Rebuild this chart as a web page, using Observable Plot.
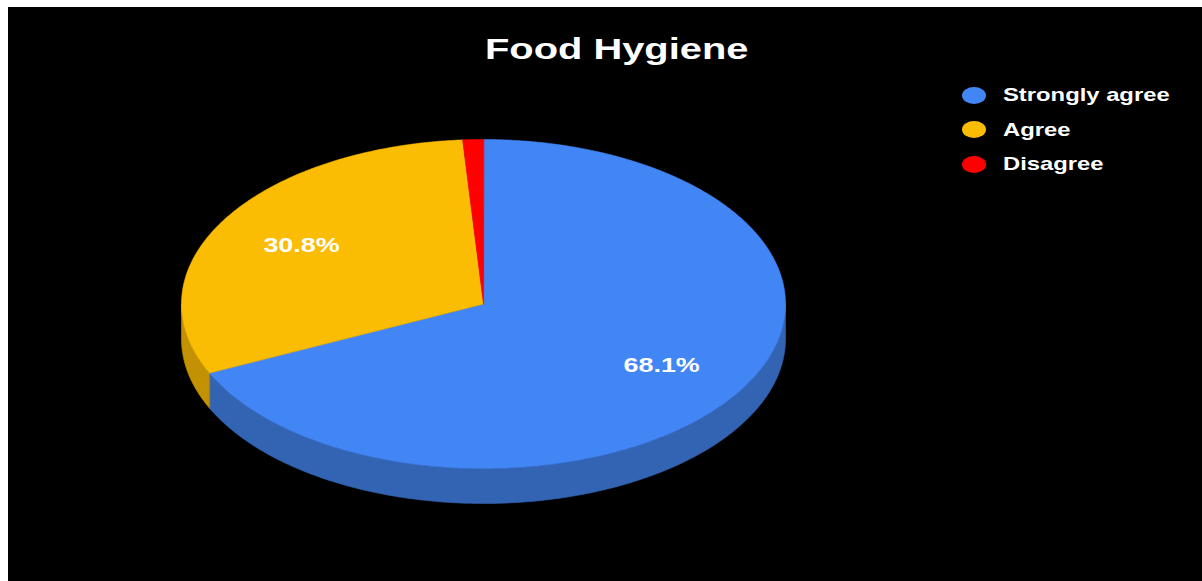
<!DOCTYPE html>
<html>
<head>
<meta charset="utf-8">
<script src="https://cdn.jsdelivr.net/npm/d3@7"></script>
<script src="https://cdn.jsdelivr.net/npm/@observablehq/plot@0.6"></script>
<style>
  html, body { margin: 0; padding: 0; background: #fff; width: 1202px; height: 581px; overflow: hidden; }
  #wrap { position: absolute; left: 8px; top: 7px; width: 1194px; height: 574px; background: #000; overflow: hidden; }
  #wrap svg { position: absolute; left: 0; top: 0; }
  .t { position: absolute; white-space: nowrap; color: #fff; font-family: "Liberation Sans", Arial, sans-serif; font-weight: bold; transform-origin: 0 0; }
  .sw { position: absolute; border-radius: 50%; }
</style>
</head>
<body>
<div id="wrap"></div>
<script>
// ---- data ----
const title = "Food Hygiene";
const categories = ["Strongly agree", "Agree", "Disagree"];
const percentages = [68.1, 30.8, 1.1];
const sliceLabels = ["68.1%", "30.8%", ""];
const topColors = ["#4285F4", "#FBBC04", "#FF0000"];
const sideColors = ["#3264B3", "#C29104", "#B80000"];

// ---- layout constants ----
const W = 1194, H = 574;
const cx = 475, cy = 296.5, rx = 302, ry = 164.5, depthPx = 35;
const depth = depthPx / ry;

const total = d3.sum(percentages);
let acc = 0;
const slices = percentages.map((v, i) => {
  const a0 = acc / total * 2 * Math.PI;
  acc += v;
  const a1 = acc / total * 2 * Math.PI;
  return {i, a0, a1};
});
const pt = (a, r = 1, off = 0) => ({x: r * Math.sin(a), y: r * Math.cos(a) - off});
const step = Math.PI / 360;

const polys = [];
// side walls (front half only: angles between 90° and 270°)
slices.forEach(s => {
  const lo = Math.max(s.a0, Math.PI / 2), hi = Math.min(s.a1, 3 * Math.PI / 2);
  if (hi <= lo) return;
  const n = Math.max(2, Math.ceil((hi - lo) / step));
  const top = [], bot = [];
  for (let k = 0; k <= n; k++) {
    const a = lo + (hi - lo) * k / n;
    top.push(pt(a));
    bot.push(pt(a, 1, depth));
  }
  const id = "side" + s.i;
  [...top, ...bot.reverse()].forEach(p => polys.push({...p, id, fill: sideColors[s.i]}));
});
// top faces
slices.forEach(s => {
  const n = Math.max(2, Math.ceil((s.a1 - s.a0) / step));
  const id = "top" + s.i;
  polys.push({x: 0, y: 0, id, fill: topColors[s.i]});
  for (let k = 0; k <= n; k++) {
    const a = s.a0 + (s.a1 - s.a0) * k / n;
    polys.push({...pt(a), id, fill: topColors[s.i]});
  }
});

const labelData = slices
  .filter(s => sliceLabels[s.i])
  .map(s => ({...pt((s.a0 + s.a1) / 2, 0.7), text: sliceLabels[s.i]}));

const chart = Plot.plot({
  width: W, height: H,
  margin: 0,
  style: {background: "transparent", overflow: "visible"},
  x: {domain: [-cx / rx, (W - cx) / rx], range: [0, W], axis: null},
  y: {domain: [-(H - cy) / ry, cy / ry], range: [H, 0], axis: null},
  color: {type: "identity"},
  marks: [
    Plot.line(polys, {x: "x", y: "y", z: "id", fill: "fill", stroke: "fill", strokeWidth: 0.6, curve: "linear-closed"}),
    Plot.text(labelData, {x: "x", y: "y", text: "text", fill: "#fff", fontSize: 19.5, fontWeight: "bold", fontFamily: "Liberation Sans, Arial, sans-serif"})
  ]
});
const wrap = document.getElementById("wrap");
wrap.appendChild(chart);

// stretch the slice labels horizontally like the reference
chart.querySelectorAll("text").forEach(t => {
  const w = t.getComputedTextLength();
  t.setAttribute("textLength", (w * 1.38).toFixed(1));
  t.setAttribute("lengthAdjust", "spacingAndGlyphs");
});

// ---- title ----
const tt = document.createElement("div");
tt.className = "t";
tt.textContent = title;
tt.style.fontSize = "29.3px";
tt.style.lineHeight = "29.3px";
wrap.appendChild(tt);
const tw = tt.getBoundingClientRect().width;
const tScale = 1.36;
tt.style.left = (608.5 - tw * tScale / 2) + "px";
tt.style.top = (52.3 - 0.8465 * 29.3) + "px";
tt.style.transform = `scaleX(${tScale})`;

// ---- legend ----
categories.forEach((c, i) => {
  const yc = 88 + i * 34.6;
  const sw = document.createElement("div");
  sw.className = "sw";
  sw.style.background = topColors[i];
  sw.style.left = (966 - 12) + "px";
  sw.style.top = (yc - 8.5) + "px";
  sw.style.width = "24px";
  sw.style.height = "17px";
  wrap.appendChild(sw);
  const lt = document.createElement("div");
  lt.className = "t";
  lt.textContent = c;
  lt.style.fontSize = "18.6px";
  lt.style.lineHeight = "18.6px";
  lt.style.left = "995px";
  lt.style.top = (yc + 7 - 0.8465 * 18.6) + "px";
  lt.style.transform = "scaleX(1.28)";
  wrap.appendChild(lt);
});
</script>
</body>
</html>
